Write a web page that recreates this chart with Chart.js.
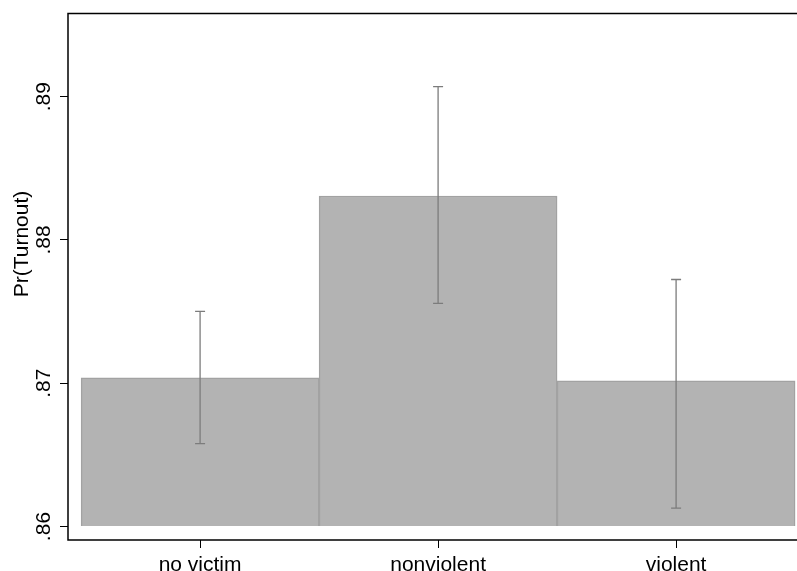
<!DOCTYPE html>
<html>
<head>
<meta charset="utf-8">
<script src="https://cdn.jsdelivr.net/npm/chart.js@4/dist/chart.umd.min.js"></script>
<style>
  html, body { margin: 0; padding: 0; background: #fff; }
  #wrap { width: 797px; height: 571px; }
</style>
</head>
<body>
<div id="wrap"><canvas id="c" width="797" height="571"></canvas></div>
<script>
// Predicted turnout by victimization type, with confidence intervals
const categories = ['no victim', 'nonviolent', 'violent'];
const turnout = [0.87037, 0.88307, 0.87017];
const ciLow = [0.86579, 0.87557, 0.86128];
const ciHigh = [0.87502, 0.89071, 0.87724];
const yTicks = [0.86, 0.87, 0.88, 0.89];
const yTickLabels = ['.86', '.87', '.88', '.89'];
const yTitle = 'Pr(Turnout)';
const baseValue = 0.86;

const FONT = 'Liberation Sans, Arial, Helvetica, sans-serif';

// Error bars (whiskers with caps) drawn through the chart's scales
const errorBars = {
  id: 'errorBars',
  afterDatasetsDraw(chart) {
    const { ctx, scales: { x, y } } = chart;
    ctx.save();
    ctx.strokeStyle = '#7c7c7c';
    ctx.lineWidth = 1.3;
    for (let i = 0; i < categories.length; i++) {
      const px = x.getPixelForValue(i);
      const top = y.getPixelForValue(ciHigh[i]);
      const bot = y.getPixelForValue(ciLow[i]);
      ctx.beginPath();
      ctx.moveTo(px, top); ctx.lineTo(px, bot);
      ctx.moveTo(px - 5, top); ctx.lineTo(px + 5, top);
      ctx.moveTo(px - 5, bot); ctx.lineTo(px + 5, bot);
      ctx.stroke();
    }
    ctx.restore();
  }
};

// Plot frame (left, top, bottom) and rotated y-axis title
const frame = {
  id: 'frame',
  afterDraw(chart) {
    const { ctx, chartArea: a } = chart;
    ctx.save();
    ctx.strokeStyle = '#000';
    ctx.lineWidth = 1.5;
    ctx.beginPath();
    ctx.moveTo(chart.width + 2, a.top);
    ctx.lineTo(a.left, a.top);
    ctx.lineTo(a.left, a.bottom);
    ctx.lineTo(chart.width + 2, a.bottom);
    ctx.stroke();
    ctx.fillStyle = '#000';
    ctx.font = '21px ' + FONT;
    ctx.translate(22, 244);
    ctx.rotate(-Math.PI / 2);
    ctx.textAlign = 'center';
    ctx.textBaseline = 'middle';
    ctx.fillText(yTitle, 0, 0);
    ctx.restore();
  }
};

new Chart(document.getElementById('c'), {
  type: 'bar',
  data: {
    datasets: [{
      data: turnout.map((v, i) => ({ x: i, y: v })),
      base: baseValue,
      backgroundColor: '#b3b3b3',
      borderColor: '#a2a2a2',
      borderWidth: 1.5,
      barPercentage: 1,
      categoryPercentage: 1
    }]
  },
  options: {
    responsive: false,
    animation: false,
    devicePixelRatio: 1,
    layout: { padding: { top: 10.5, right: 0, bottom: 0, left: 0 } },
    plugins: { legend: { display: false }, tooltip: { enabled: false } },
    scales: {
      x: {
        type: 'linear',
        offset: false,
        min: -0.555,
        max: 2.508,
        afterBuildTicks: s => { s.ticks = categories.map((c, i) => ({ value: i })); },
        afterFit: s => { s.height = 31; },
        border: { display: false },
        grid: { offset: false, drawOnChartArea: false, drawTicks: true, tickLength: 8, color: '#000', lineWidth: 1 },
        ticks: {
          color: '#000',
          font: { family: FONT, size: 21 },
          padding: 5,
          maxRotation: 0,
          autoSkip: false,
          callback: v => categories[v]
        }
      },
      y: {
        min: 0.85906,
        max: 0.8958,
        afterBuildTicks: s => { s.ticks = yTicks.map(v => ({ value: v })); },
        afterFit: s => { s.width = 68; },
        border: { display: false },
        grid: { drawOnChartArea: false, drawTicks: true, tickLength: 8, color: '#000', lineWidth: 1 },
        ticks: {
          color: '#000',
          font: { family: FONT, size: 21 },
          padding: 1,
          minRotation: 90,
          maxRotation: 90,
          crossAlign: 'center',
          autoSkip: false,
          callback: (v, i) => yTickLabels[i]
        }
      }
    }
  },
  plugins: [errorBars, frame]
});
</script>
</body>
</html>
